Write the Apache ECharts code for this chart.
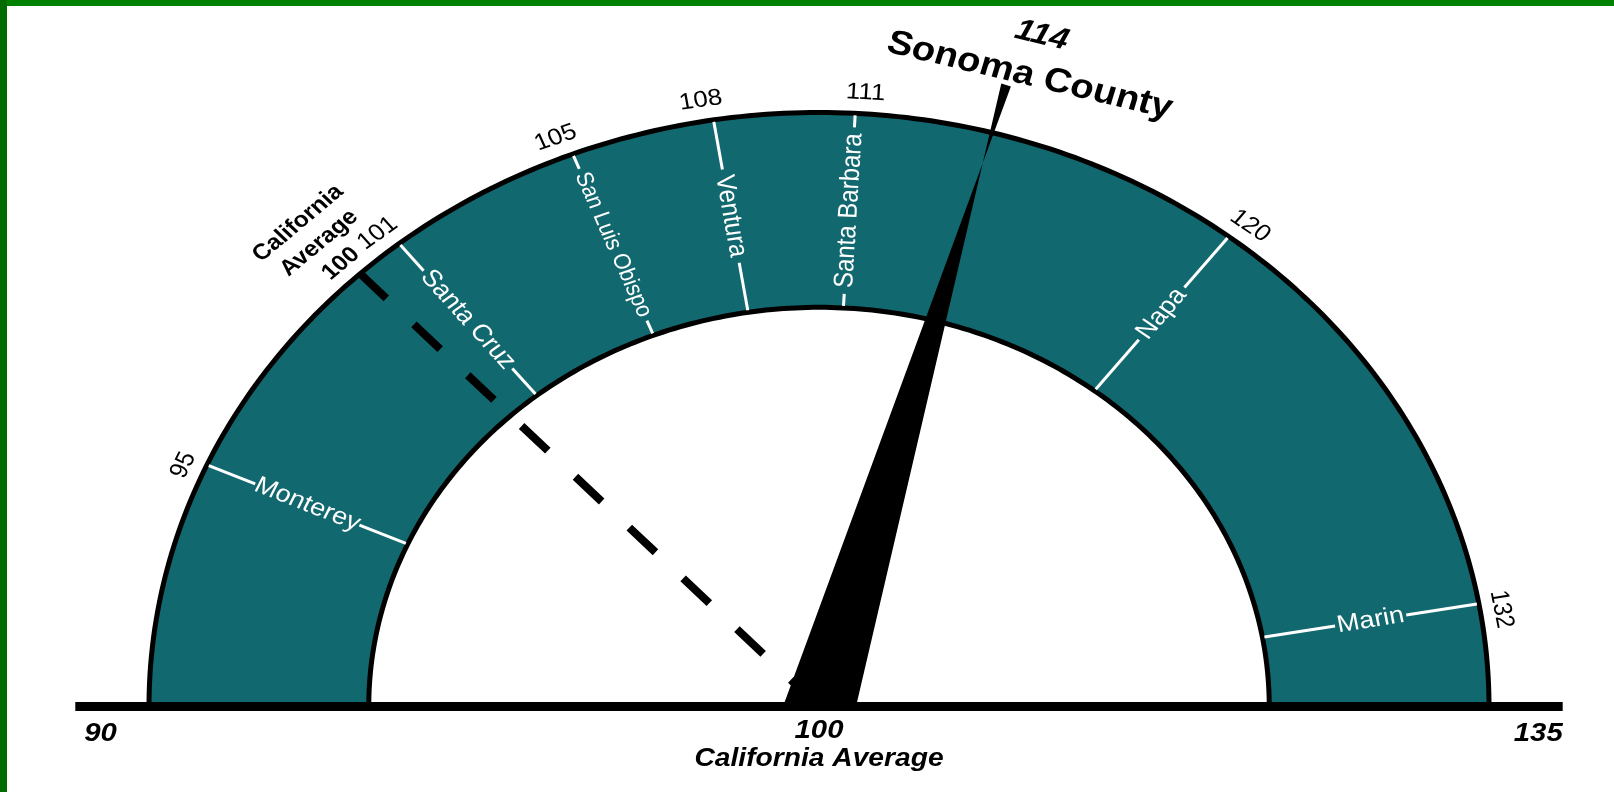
<!DOCTYPE html>
<html>
<head>
<meta charset="utf-8">
<title>Sonoma County gauge</title>
<script src="https://cdn.jsdelivr.net/npm/echarts@6.0.0/dist/echarts.min.js"></script>
<style>
  html, body { margin: 0; padding: 0; background: #fff; }
  #chart { position: absolute; left: 0; top: 0; width: 1614px; height: 792px; }
  .edge { position: absolute; left: 0; top: 0; z-index: 2; }
  .edge-top { width: 1614px; height: 6px; background: #008000; }
  .edge-left { width: 7px; height: 792px; background: #006c00; }
</style>
</head>
<body>
<div id="chart"></div>
<div class="edge edge-top"></div>
<div class="edge edge-left"></div>
<script>
// scale and values
const scaleMin = 90;
const scaleMax = 135;
const averageValue = 100;
const averageCaption = ['California', 'Average'];
const featuredName = 'Sonoma County';
const featuredValue = 114;
const countyNames = ['Monterey', 'Santa Cruz', 'San Luis Obispo', 'Ventura', 'Santa Barbara', 'Napa', 'Marin'];
const countyValues = [95, 101, 105, 108, 111, 120, 132];

// layout
const CX = 819, CY = 706.5, RX = 670;
const SQUASH = 594 / 670;      // the dial is an ellipse, wider than tall
const STRETCH = 1 / SQUASH;    // text is stretched the same way
const R_IN = 0.672, R_BASE = 1.11, R_TIP = 1.083;
const TEAL = '#12686f';
const FAMILY = '"Liberation Sans", Arial, sans-serif';

const measureCtx = document.createElement('canvas').getContext('2d');
const textWidth = (txt, font) => { measureCtx.font = font; return measureCtx.measureText(txt).width; };

// helpers
const unit = (a, b) => { const dx = b[0] - a[0], dy = b[1] - a[1]; const l = Math.hypot(dx, dy); return [dx / l, dy / l]; };
const along = (p, u, d) => [p[0] + u[0] * d, p[1] + u[1] * d];
const mathAngle = (u) => Math.atan2(-u[1], u[0]);

// polar point -> ellipse point
const projector = (api) => {
    const c = api.coord([0, scaleMin]);
    const pt = (r, v) => {
        const p = api.coord([r, v]);
        return [p[0], c[1] + (p[1] - c[1]) * SQUASH];
    };
    const frame = (v) => {
        const pOut = pt(1, v);
        const raw = api.coord([1, v]);
        // angles before squashing, text gets stretched afterwards
        const phi = mathAngle(unit(c, raw));
        const tanRot = mathAngle(unit(api.coord([1, v / 1.002]), api.coord([1, v * 1.002])));
        return {
            pOut, phi, tanRot,
            radial: unit(c, pOut),
            tangent: unit(pt(1, v / 1.002), pt(1, v * 1.002)) // clockwise
        };
    };
    return { c, pt, frame };
};

const textEl = (pos, rotation, text, font, fill, align) => ({
    type: 'group', x: pos[0], y: pos[1], scaleX: STRETCH,
    children: [{
        type: 'text', rotation,
        style: { text, font, fill, align: align || 'center', verticalAlign: 'middle' }
    }]
});

const renderBand = (params, api) => {
    const { pt } = projector(api);
    const steps = 240;
    const outer = [], inner = [];
    for (let i = 0; i <= steps; i++) {
        const v = scaleMin * Math.pow(scaleMax / scaleMin, i / steps);
        outer.push(pt(1, v));
        inner.push(pt(R_IN, v));
    }
    return {
        type: 'polygon',
        shape: { points: outer.concat(inner.reverse()) },
        style: { fill: TEAL, stroke: '#000', lineWidth: 5, lineJoin: 'round' }
    };
};

const renderCounty = (params, api) => {
    const { pt, frame } = projector(api);
    const v = api.value(1);
    const name = countyNames[params.dataIndex];
    const f = frame(v);
    const pIn = pt(R_IN, v);
    const inward = unit(f.pOut, pIn);
    const start = along(f.pOut, inward, 2);
    const end = along(pIn, inward, -2);
    const mid = [(start[0] + end[0]) / 2, (start[1] + end[1]) / 2];
    const nameFont = (name.length > 13 ? 21 : 24) + 'px ' + FAMILY;
    const half = textWidth(name, nameFont) / 2 + 6;
    const cut1 = along(mid, inward, -half);
    const cut2 = along(mid, inward, half);
    const nameRot = f.phi > Math.PI / 2 ? f.phi - Math.PI : f.phi;
    const side = f.phi > Math.PI / 2 ? -1 : 1;
    const numPos = along(along(f.pOut, f.radial, 21), f.tangent, 9 * side);
    const lineStyle = { stroke: '#fff', lineWidth: 3 };
    return {
        type: 'group',
        children: [
            { type: 'line', shape: { x1: start[0], y1: start[1], x2: cut1[0], y2: cut1[1] }, style: lineStyle },
            { type: 'line', shape: { x1: cut2[0], y1: cut2[1], x2: end[0], y2: end[1] }, style: lineStyle },
            textEl(mid, nameRot, name, nameFont, '#fff'),
            textEl(numPos, f.tanRot, String(v), '23px ' + FAMILY, '#000')
        ]
    };
};

const renderAverage = (params, api) => {
    const { c, frame } = projector(api);
    const f = frame(api.value(1));
    const font = 'bold 22px ' + FAMILY;
    const labelAt = (d) => along(along(f.pOut, f.radial, d), f.tangent, -6);
    return {
        type: 'group',
        children: [
            {
                type: 'line',
                shape: { x1: f.pOut[0], y1: f.pOut[1], x2: c[0], y2: c[1] },
                style: { stroke: '#000', lineWidth: 8, lineDash: [36, 38] }
            },
            textEl(labelAt(20), f.tanRot, String(api.value(1)), font, '#000'),
            textEl(labelAt(50), f.tanRot, averageCaption[1], font, '#000'),
            textEl(labelAt(79), f.tanRot, averageCaption[0], font, '#000')
        ]
    };
};

const renderNeedle = (params, api) => {
    const { c, pt, frame } = projector(api);
    const v = api.value(1);
    const f = frame(v);
    const tip = pt(R_TIP, v);
    const dir = unit(c, tip);
    const n = [-dir[1], dir[0]];
    const points = [
        [c[0] - 36, c[1]],
        along(tip, n, 5),
        along(tip, n, -5),
        [c[0] + 37, c[1]]
    ];
    const labelAt = (d) => along(along(f.pOut, f.radial, d), f.tangent, 20);
    return {
        type: 'group',
        children: [
            { type: 'polygon', shape: { points }, style: { fill: '#000' } },
            textEl(labelAt(64), f.tanRot, featuredName, 'bold 34px ' + FAMILY, '#000'),
            textEl(labelAt(106), f.tanRot, String(v), 'italic bold 30px ' + FAMILY, '#000')
        ]
    };
};

const renderBaseline = (params, api) => {
    const { c, pt } = projector(api);
    const left = pt(R_BASE, scaleMin);
    const right = pt(R_BASE, scaleMax);
    const numFont = 'italic bold 26px ' + FAMILY;
    return {
        type: 'group',
        children: [
            { type: 'line', shape: { x1: left[0], y1: left[1], x2: right[0], y2: right[1] }, style: { stroke: '#000', lineWidth: 9 } },
            textEl([left[0] + 9, c[1] + 27], 0, String(scaleMin), numFont, '#000', 'left'),
            textEl([right[0], c[1] + 27], 0, String(scaleMax), numFont, '#000', 'right'),
            textEl([c[0], c[1] + 24], 0, String(averageValue), numFont, '#000'),
            textEl([c[0], c[1] + 53], 0, averageCaption.join(' '), 'italic bold 25px ' + FAMILY, '#000')
        ]
    };
};

const chart = echarts.init(document.getElementById('chart'));
chart.setOption({
    backgroundColor: '#fff',
    animation: false,
    polar: { center: [CX, CY], radius: RX },
    angleAxis: {
        type: 'log', min: scaleMin, max: scaleMax,
        startAngle: 180, endAngle: 0, clockwise: true, show: false
    },
    radiusAxis: { type: 'value', min: 0, max: 1, show: false },
    series: [
        { type: 'custom', coordinateSystem: 'polar', silent: true, z: 1, renderItem: renderBand, data: [[1, scaleMin]] },
        {
            type: 'custom', coordinateSystem: 'polar', silent: true, z: 2, renderItem: renderCounty,
            data: countyValues.map((v) => [1, v])
        },
        { type: 'custom', coordinateSystem: 'polar', silent: true, z: 3, renderItem: renderAverage, data: [[1, averageValue]] },
        { type: 'custom', coordinateSystem: 'polar', silent: true, z: 4, renderItem: renderNeedle, data: [[R_TIP, featuredValue]] },
        { type: 'custom', coordinateSystem: 'polar', silent: true, z: 5, renderItem: renderBaseline, data: [[R_BASE, scaleMin]] }
    ]
});
</script>
</body>
</html>
